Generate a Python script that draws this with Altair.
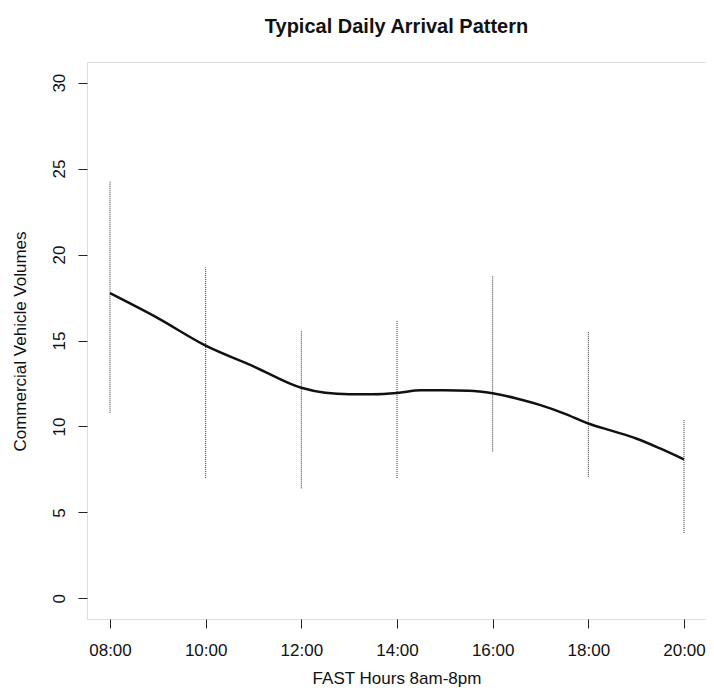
import altair as alt
import pandas as pd

# whisker ranges at each two-hour mark
hours = [8, 10, 12, 14, 16, 18, 20]
low = [10.8, 7.0, 6.4, 7.0, 8.55, 7.07, 3.8]
high = [24.3, 19.25, 15.6, 16.15, 18.75, 15.55, 10.42]

# typical arrival curve
curve_hours = [8, 9, 10, 11, 12, 12.5, 13, 13.5, 14, 14.5, 15, 15.5, 16, 16.5, 17, 17.5, 18, 18.5, 19, 19.5, 20]
curve_vals = [17.75, 16.3, 14.7, 13.5, 12.25, 11.96, 11.88, 11.88, 11.95, 12.1, 12.1, 12.08, 11.93,
              11.63, 11.24, 10.75, 10.17, 9.74, 9.3, 8.72, 8.08]

tick_hours = [8, 10, 12, 14, 16, 18, 20]
y_ticks = [0, 5, 10, 15, 20, 25, 30]

FONT = "Liberation Sans"

whisk = pd.DataFrame({"hour": hours, "low": low, "high": high})
curve = pd.DataFrame({"hour": curve_hours, "vol": curve_vals})

xscale = alt.Scale(domain=[7.519, 20.46], nice=False, zero=False)
yscale = alt.Scale(domain=[-1.2, 31.2], nice=False, zero=False)

xaxis = alt.Axis(
    values=tick_hours,
    labelExpr="(datum.value < 10 ? '0' : '') + datum.value + ':00'",
    title="FAST Hours 8am-8pm",
    domain=False, grid=False,
    tickSize=9, tickColor="#222", tickWidth=1,
    labelFont=FONT, labelFontSize=17, labelColor="#111", labelPadding=14,
    labelFlush=False,
    titleFont=FONT, titleFontSize=17, titleFontWeight="normal", titleColor="#111",
    titlePadding=12,
)
yaxis = alt.Axis(
    values=y_ticks,
    title="Commercial Vehicle Volumes",
    domain=False, grid=False,
    tickSize=9, tickColor="#222", tickWidth=1,
    labelFont=FONT, labelFontSize=17, labelColor="#111", labelPadding=14,
    labelAngle=270, labelAlign="center", labelBaseline="alphabetic",
    labelFlush=False,
    titleFont=FONT, titleFontSize=17, titleFontWeight="normal", titleColor="#111",
    titleAngle=270, titleAlign="center", titleBaseline="middle",
    titleX=-67, titleY=279,
)

rules = alt.Chart(whisk).mark_rule(color="#333", strokeWidth=1, strokeDash=[1, 1]).encode(
    x=alt.X("hour:Q", scale=xscale, axis=xaxis),
    y=alt.Y("low:Q", scale=yscale, axis=yaxis),
    y2="high:Q",
)

line = alt.Chart(curve).mark_line(color="#111", strokeWidth=2.5, interpolate="monotone").encode(
    x=alt.X("hour:Q", scale=xscale),
    y=alt.Y("vol:Q", scale=yscale),
)

chart = alt.layer(rules, line).properties(
    width=619,
    height=557,
    autosize=alt.AutoSizeParams(type="none"),
    padding={"left": 79, "top": 54, "right": 0, "bottom": 70},
    title=alt.TitleParams(
        "Typical Daily Arrival Pattern",
        font=FONT, fontSize=20, fontWeight="bold", color="#111",
        anchor="middle", offset=25,
    ),
).configure_view(stroke="#222", strokeWidth=1.2).configure(background="white")

chart.save("out.html", embed_options={"renderer": "svg", "actions": False})
